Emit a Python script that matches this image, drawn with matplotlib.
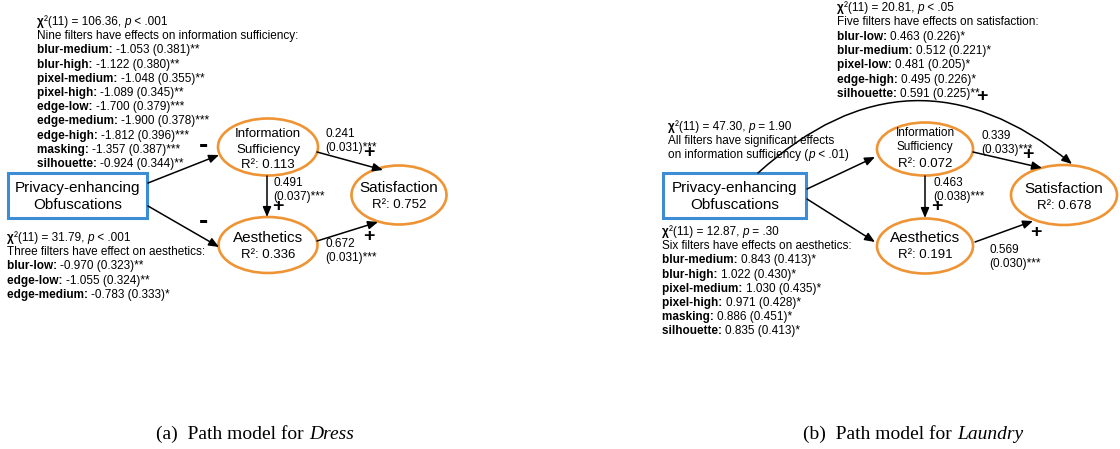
import matplotlib
matplotlib.use("Agg")
import matplotlib.pyplot as plt
from matplotlib.patches import Ellipse, Rectangle

plt.rcParams["font.family"] = ["Liberation Sans", "DejaVu Sans"]

ORANGE = "#EE9434"
BLUE = "#3D8DD4"

# ---- Dress model ----
dress_info_filters = ["blur-medium", "blur-high", "pixel-medium", "pixel-high", "edge-low",
                      "edge-medium", "edge-high", "masking", "silhouette"]
dress_info_coef = [-1.053, -1.122, -1.048, -1.089, -1.700, -1.900, -1.812, -1.357, -0.924]
dress_info_se = [0.381, 0.380, 0.355, 0.345, 0.379, 0.378, 0.396, 0.387, 0.344]
dress_info_sig = ["**", "**", "**", "**", "***", "***", "***", "***", "**"]

dress_aes_filters = ["blur-low", "edge-low", "edge-medium"]
dress_aes_coef = [-0.970, -1.055, -0.783]
dress_aes_se = [0.323, 0.324, 0.333]
dress_aes_sig = ["**", "**", "*"]

dress_chi2 = [106.36, 31.79]          # information sufficiency, aesthetics
dress_p = ["< .001", "< .001"]
dress_r2 = [0.113, 0.336, 0.752]       # information sufficiency, aesthetics, satisfaction
dress_path_coef = [0.491, 0.241, 0.672]  # info->aes, info->sat, aes->sat
dress_path_se = [0.037, 0.031, 0.031]
dress_path_sig = ["***", "***", "***"]

# ---- Laundry model ----
laundry_sat_filters = ["blur-low", "blur-medium", "pixel-low", "edge-high", "silhouette"]
laundry_sat_coef = [0.463, 0.512, 0.481, 0.495, 0.591]
laundry_sat_se = [0.226, 0.221, 0.205, 0.226, 0.225]
laundry_sat_sig = ["*", "*", "*", "*", "**"]

laundry_aes_filters = ["blur-medium", "blur-high", "pixel-medium", "pixel-high", "masking", "silhouette"]
laundry_aes_coef = [0.843, 1.022, 1.030, 0.971, 0.886, 0.835]
laundry_aes_se = [0.413, 0.430, 0.435, 0.428, 0.451, 0.413]
laundry_aes_sig = ["*", "*", "*", "*", "*", "*"]

laundry_chi2 = [20.81, 47.30, 12.87]   # satisfaction, information sufficiency, aesthetics
laundry_p = ["< .05", "= 1.90", "= .30"]
laundry_r2 = [0.072, 0.191, 0.678]
laundry_path_coef = [0.463, 0.339, 0.569]
laundry_path_se = [0.038, 0.033, 0.030]
laundry_path_sig = ["***", "***", "***"]

fig = plt.figure(figsize=(11.2, 4.49), dpi=100)
ax = fig.add_axes([0, 0, 1, 1])
ax.set_xlim(0, 1120)
ax.set_ylim(449, 0)
ax.axis("off")
renderer = fig.canvas.get_renderer()

STYLES = {"b": dict(fontweight="bold"), "i": dict(fontstyle="italic"), None: {}}


def advance(txt, **kw):
    # width of a string including trailing blanks, in pixels (= data units here)
    a = ax.text(0, 0, txt + "|", **kw)
    b = ax.text(0, 0, "|", **kw)
    w = a.get_window_extent(renderer).width - b.get_window_extent(renderer).width
    a.remove()
    b.remove()
    return w


def runs(x, y, parts, size=8.5, center=False, **extra):
    kws = [dict(fontsize=size, **STYLES[s], **extra) for _, s in parts]
    widths = [advance(t, **kw) for (t, _), kw in zip(parts, kws)]
    if center:
        x -= sum(widths) / 2
    for (t, _), kw, w in zip(parts, kws, widths):
        ax.text(x, y, t, va="baseline", ha="left", zorder=5, **kw)
        x += w


def chi_line(x, y, chi2, p):
    runs(x, y, [("χ", "b"), (f"²(11) = {chi2:.2f}, ", None), ("p", "i"), (f" {p}", None)])


def filter_block(x, y0, chi2, p, header, names, coef, se, sig, step=14.2):
    chi_line(x, y0, chi2, p)
    ax.text(x, y0 + step, header, fontsize=8.5, va="baseline", zorder=5)
    for i, (n, c, s, g) in enumerate(zip(names, coef, se, sig)):
        runs(x, y0 + step * (i + 2), [(f"{n}: ", "b"), (f"{c:.3f} ({s:.3f}){g}", None)])


def base(cy, size):
    return cy + 0.358 * size * 100 / 72


def node(cx, cy, w, h, lines):
    ax.add_patch(Ellipse((cx, cy), w, h, facecolor="white", edgecolor=ORANGE, lw=1.9, zorder=2))
    for txt, size, yy in lines:
        ax.text(cx, base(yy, size), txt, ha="center", va="baseline", fontsize=size, zorder=3)


def source_box(x, y, w, h):
    ax.add_patch(Rectangle((x, y), w, h, facecolor="white", edgecolor=BLUE, lw=2.2, zorder=2))
    cx = x + w / 2
    ax.text(cx, base(y + 14, 11), "Privacy-enhancing", ha="center", va="baseline", fontsize=11, zorder=3)
    ax.text(cx, base(y + 31, 11), "Obfuscations", ha="center", va="baseline", fontsize=11, zorder=3)


def arrow(p0, p1, rad=0.0):
    ax.annotate("", xy=p1, xytext=p0, zorder=4,
                arrowprops=dict(arrowstyle="-|>,head_length=0.6,head_width=0.25", color="black",
                                lw=1.1, shrinkA=0, shrinkB=0, connectionstyle=f"arc3,rad={rad}"))


def path_label(x, y, coef, se, sig):
    ax.text(x, base(y, 8.5), f"{coef:.3f}", fontsize=8.5, va="baseline", zorder=5)
    ax.text(x, base(y + 14, 8.5), f"({se:.3f}){sig}", fontsize=8.5, va="baseline", zorder=5)


def sign(x, y, s):
    size = 20 if s == "-" else 14
    ax.text(x, y, s, fontsize=size, fontweight="bold", ha="center", va="center", zorder=5)


# ---------------- (a) Dress ----------------
filter_block(37, 25, dress_chi2[0], dress_p[0], "Nine filters have effects on information sufficiency:",
             dress_info_filters, dress_info_coef, dress_info_se, dress_info_sig)
filter_block(7, 241, dress_chi2[1], dress_p[1], "Three filters have effect on aesthetics:",
             dress_aes_filters, dress_aes_coef, dress_aes_se, dress_aes_sig)

source_box(8, 173, 139, 45)
node(268, 147, 100, 57, [("Information", 9.5, 132), ("Sufficiency", 9.5, 148), (f"R²: {dress_r2[0]:.3f}", 9.5, 163)])
node(268, 245, 99, 56, [("Aesthetics", 11, 237), (f"R²: {dress_r2[1]:.3f}", 9.5, 253)])
node(399, 195, 95, 59, [("Satisfaction", 11, 187), (f"R²: {dress_r2[2]:.3f}", 9.5, 203)])

arrow((148, 183), (219, 155))
arrow((148, 206), (219, 247))
arrow((267, 176), (267, 217))
arrow((317, 152), (383, 170))
arrow((317, 241), (378, 222))

path_label(273, 182, dress_path_coef[0], dress_path_se[0], dress_path_sig[0])
path_label(325, 133, dress_path_coef[1], dress_path_se[1], dress_path_sig[1])
path_label(325, 243, dress_path_coef[2], dress_path_se[2], dress_path_sig[2])

sign(204, 146, "-")
sign(204, 222, "-")
sign(369, 153, "+")
sign(278, 206, "+")
sign(369, 236, "+")

# ---------------- (b) Laundry ----------------
filter_block(837, 11, laundry_chi2[0], laundry_p[0], "Five filters have effects on satisfaction:",
             laundry_sat_filters, laundry_sat_coef, laundry_sat_se, laundry_sat_sig, step=14.3)
chi_line(668, 130, laundry_chi2[1], laundry_p[1])
ax.text(668, 144, "All filters have significant effects", fontsize=8.5, va="baseline", zorder=5)
runs(668, 158, [("on information sufficiency (", None), ("p", "i"), (" < .01)", None)])
filter_block(662, 235, laundry_chi2[2], laundry_p[2], "Six filters have effects on aesthetics:",
             laundry_aes_filters, laundry_aes_coef, laundry_aes_se, laundry_aes_sig)

source_box(663, 173, 143, 45)
node(925, 149, 96, 53, [("Information", 8.5, 132), ("Sufficiency", 8.5, 146), (f"R²: {laundry_r2[0]:.3f}", 9.5, 162)])
node(925, 246, 96, 55, [("Aesthetics", 11, 237), (f"R²: {laundry_r2[1]:.3f}", 9.5, 253)])
node(1064, 195, 106, 60, [("Satisfaction", 11, 188), (f"R²: {laundry_r2[2]:.3f}", 9.5, 204)])

arrow((807, 189), (875, 157))
arrow((807, 199), (875, 242))
arrow((925, 176), (925, 218))
arrow((973, 152), (1042, 168))
arrow((975, 242), (1033, 221))
arrow((758, 173), (1072, 164), rad=-0.43)

path_label(933, 182, laundry_path_coef[0], laundry_path_se[0], laundry_path_sig[0])
path_label(981, 135, laundry_path_coef[1], laundry_path_se[1], laundry_path_sig[1])
path_label(989, 249, laundry_path_coef[2], laundry_path_se[2], laundry_path_sig[2])

sign(982, 97, "+")
sign(1028, 154, "+")
sign(937, 206, "+")
sign(1036, 233, "+")

# captions
cap = dict(family=["Liberation Serif", "DejaVu Serif"])
runs(255, 439, [("(a)  Path model for ", None), ("Dress", "i")], size=14, center=True, **cap)
runs(913, 439, [("(b)  Path model for ", None), ("Laundry", "i")], size=14, center=True, **cap)

fig.savefig("out.png", dpi=100)
